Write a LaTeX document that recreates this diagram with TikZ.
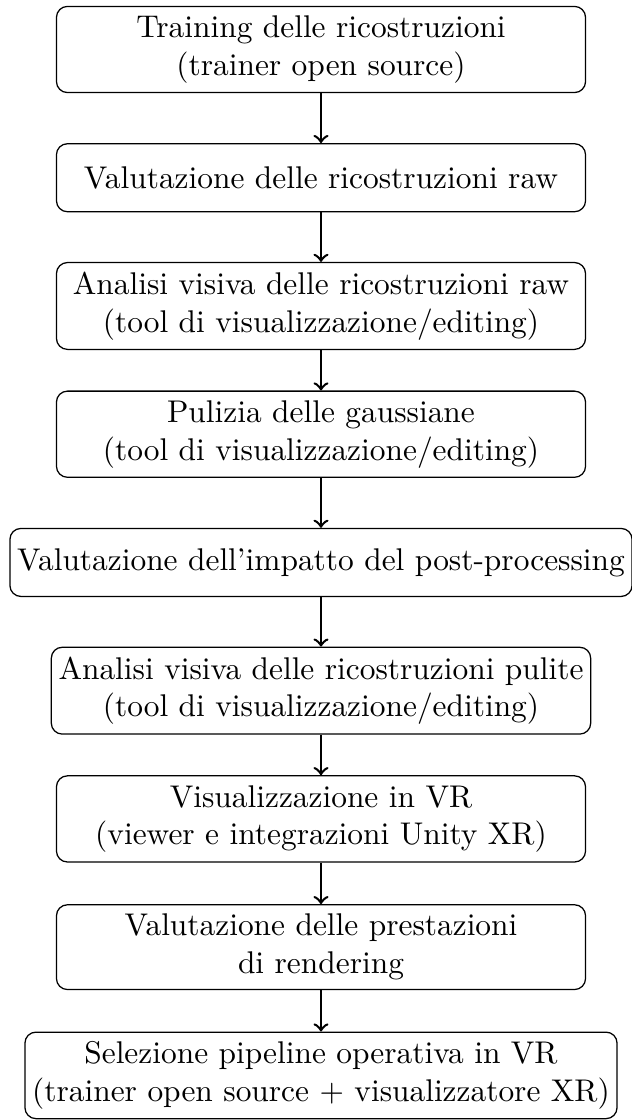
\documentclass[tikz,border=0pt]{standalone}
\usetikzlibrary{positioning}
\begin{document}
\begin{tikzpicture}[
  stepbox/.style={draw, rounded corners=3.5pt, align=center, minimum width=168.5pt, minimum height=21.66pt, inner xsep=2.3pt, inner ysep=3pt, line width=0.4pt},
  flow/.style={->, thick}
]
\useasboundingbox (0,0) rectangle (201.27pt,-356.69pt);
\node[stepbox] (n1) at (102.23pt,-15.76pt) {Training delle ricostruzioni\\(trainer open source)};
\node[stepbox] (n2) at (102.23pt,-56.60pt) {Valutazione delle ricostruzioni raw};
\node[stepbox] (n3) at (102.23pt,-97.44pt) {Analisi visiva delle ricostruzioni raw\\(tool di visualizzazione/editing)};
\node[stepbox] (n4) at (102.23pt,-138.28pt) {Pulizia delle gaussiane\\(tool di visualizzazione/editing)};
\node[stepbox] (n5) at (102.23pt,-179.12pt) {Valutazione dell'impatto del post-processing};
\node[stepbox] (n6) at (102.23pt,-219.96pt) {Analisi visiva delle ricostruzioni pulite\\(tool di visualizzazione/editing)};
\node[stepbox] (n7) at (102.23pt,-260.80pt) {Visualizzazione in VR\\(viewer e integrazioni Unity XR)};
\node[stepbox] (n8) at (102.23pt,-301.64pt) {Valutazione delle prestazioni\\di rendering};
\node[stepbox] (n9) at (102.23pt,-342.48pt) {Selezione pipeline operativa in VR\\(trainer open source $+$ visualizzatore XR)};
\draw[flow] (n1) -- (n2);
\draw[flow] (n2) -- (n3);
\draw[flow] (n3) -- (n4);
\draw[flow] (n4) -- (n5);
\draw[flow] (n5) -- (n6);
\draw[flow] (n6) -- (n7);
\draw[flow] (n7) -- (n8);
\draw[flow] (n8) -- (n9);
\end{tikzpicture}
\end{document}
